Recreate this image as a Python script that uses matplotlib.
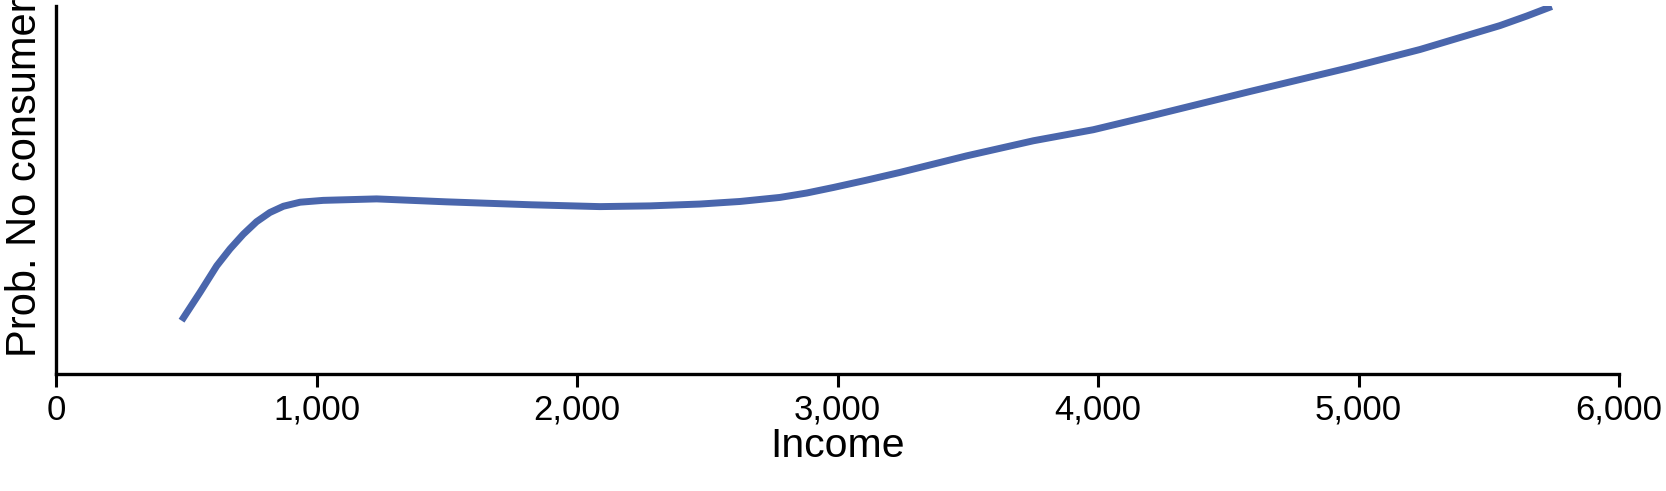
import matplotlib
matplotlib.use("Agg")
import matplotlib.pyplot as plt

plt.rcParams['font.family'] = ['Liberation Sans', 'DejaVu Sans']

# Data (y in relative units: 0 = x-axis, 1 = top of y-axis)
income = [482, 553, 617, 668, 719, 770, 821, 873, 937, 1026, 1231, 1498, 1824,
          2088, 2280, 2472, 2626, 2779, 2882, 2984, 3112, 3240, 3496, 3752,
          3982, 4200, 4584, 4967, 5236, 5543, 5646, 5742]
prob_no_consumer = [0.145, 0.222, 0.294, 0.340, 0.380, 0.414, 0.439, 0.456, 0.467,
                    0.472, 0.476, 0.468, 0.460, 0.455, 0.457, 0.462, 0.469, 0.480,
                    0.492, 0.507, 0.527, 0.548, 0.593, 0.634, 0.664, 0.701, 0.768,
                    0.833, 0.882, 0.947, 0.973, 0.999]
xticks = [0, 1000, 2000, 3000, 4000, 5000, 6000]
xtick_labels = ["0", "1,000", "2,000", "3,000", "4,000", "5,000", "6,000"]

fig = plt.figure(figsize=(16.66, 4.919), dpi=100)
ax = fig.add_axes([56 / 1666, 1 - 375 / 492, (1619 - 56) / 1666, (375 - 7) / 492])

ax.plot(income, prob_no_consumer, color="#4a66ac", lw=5, solid_capstyle="butt",
        solid_joinstyle="round")

ax.set_xlim(0, 6000)
ax.set_ylim(0, 1)
ax.set_xticks(xticks)
ax.set_xticklabels(xtick_labels)
ax.set_yticks([])

for s in ["top", "right"]:
    ax.spines[s].set_visible(False)
for s in ["left", "bottom"]:
    ax.spines[s].set_linewidth(2.4)
    ax.spines[s].set_color("black")

ax.tick_params(axis="x", direction="out", length=9.5, width=2.2, pad=4,
               labelsize=25, colors="black")

ax.set_xlabel("Income", fontsize=29.5, labelpad=0.5)

fig.text(25 / 1666, 1 - 357 / 492, "Prob. No consumer", rotation=90,
         fontsize=30, ha="center", va="bottom")

fig.savefig("out.png", dpi=100, facecolor="white")
